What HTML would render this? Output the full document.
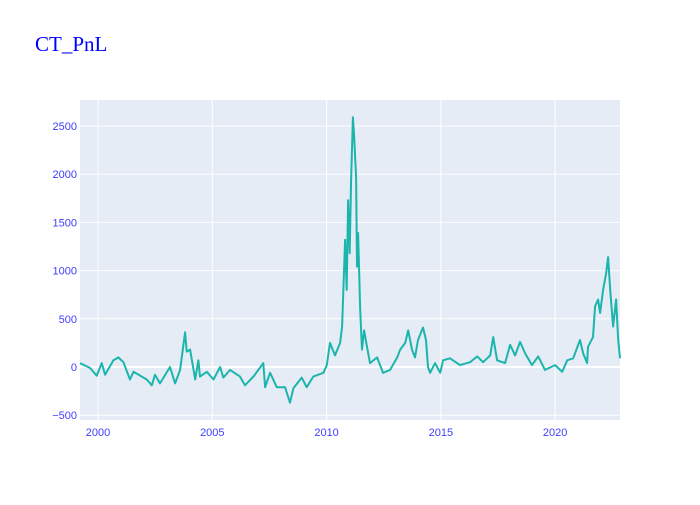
<!DOCTYPE html>
<html><head><meta charset="utf-8"><style>
body{margin:0;background:#fff}
svg text{font-family:"Liberation Sans",sans-serif}
</style></head><body>
<svg width="700" height="500" xmlns="http://www.w3.org/2000/svg">
<text x="35" y="51" font-size="21" fill="#0000ff" style="font-family:'Liberation Serif',serif">CT_PnL</text>
<rect x="80" y="100" width="540" height="320" fill="#e5ecf6"/>
<g id="grid"></g><g id="ticks"></g><g id="series"></g>
</svg>
<script>
const years=[1999.21,1999.65,1999.94,2000.16,2000.31,2000.67,2000.89,2001.11,2001.40,2001.55,2002.13,2002.35,2002.49,2002.71,2003.15,2003.37,2003.59,2003.81,2003.88,2004.03,2004.25,2004.39,2004.46,2004.76,2005.05,2005.34,2005.48,2005.78,2006.21,2006.43,2006.80,2007.23,2007.31,2007.53,2007.82,2008.18,2008.40,2008.55,2008.91,2009.13,2009.42,2009.86,2010.01,2010.15,2010.37,2010.59,2010.68,2010.81,2010.88,2010.94,2011.01,2011.07,2011.15,2011.20,2011.29,2011.33,2011.38,2011.47,2011.55,2011.64,2011.77,2011.90,2012.21,2012.47,2012.78,2013.09,2013.22,2013.44,2013.57,2013.74,2013.87,2014.00,2014.22,2014.35,2014.44,2014.53,2014.75,2014.97,2015.10,2015.40,2015.84,2016.28,2016.59,2016.85,2017.16,2017.29,2017.46,2017.81,2018.03,2018.25,2018.47,2018.69,2018.99,2019.26,2019.56,2020.00,2020.31,2020.53,2020.79,2021.09,2021.23,2021.40,2021.44,2021.66,2021.75,2021.88,2021.97,2022.10,2022.23,2022.32,2022.41,2022.54,2022.67,2022.76,2022.84];
const pnl=[40,-10,-90,40,-80,70,100,50,-130,-50,-130,-190,-80,-170,0,-170,-30,360,160,180,-130,70,-100,-50,-130,0,-110,-30,-100,-190,-100,40,-210,-60,-210,-210,-370,-220,-110,-210,-100,-60,20,250,120,250,420,1320,800,1730,1180,1900,2590,2420,1970,1040,1390,590,180,380,210,40,100,-60,-30,100,180,250,380,180,100,280,410,280,0,-60,40,-60,70,90,20,50,110,50,120,310,70,40,230,120,260,140,20,110,-30,20,-50,70,90,280,140,40,210,310,630,700,560,800,970,1140,800,420,700,280,90];
const xTicks=[2000,2005,2010,2015,2020];
const yTicks=[-500,0,500,1000,1500,2000,2500];
const X0=1999.21,X1=2022.84,L=80,R=620,T=100,B=420;
const xs=v=>L+(v-X0)/(X1-X0)*(R-L);
const ys=v=>367-v*0.0964;
const NS="http://www.w3.org/2000/svg";
const g=document.getElementById('grid'),t=document.getElementById('ticks'),s=document.getElementById('series');
function mk(tag,a,p){const e=document.createElementNS(NS,tag);for(const k in a)e.setAttribute(k,a[k]);p.appendChild(e);return e;}
xTicks.forEach(v=>{
 const l=mk('line',{x1:xs(v),x2:xs(v),y1:T,y2:B,stroke:'#fff','stroke-width':1},g);
 
 
 const tx=mk('text',{x:xs(v),y:436,'text-anchor':'middle','font-size':11,fill:'#4040ff'},t);
 tx.textContent=v;
 
 
});
yTicks.forEach(v=>{
 const l=mk('line',{x1:L,x2:R,y1:ys(v),y2:ys(v),stroke:'#fff','stroke-width':v===0?2:1},g);
 
 
 const tx=mk('text',{x:77,y:ys(v)+4,'text-anchor':'end','font-size':11,fill:'#4040ff'},t);
 tx.textContent=v<0?'\u2212'+Math.abs(v):v;
 
 
});
const pts=years.map((y,i)=>xs(y).toFixed(1)+','+ys(pnl[i]).toFixed(1)).join(' ');
const pl=mk('polyline',{points:pts,fill:'none',stroke:'#1cb5ac','stroke-width':2,'stroke-linejoin':'round'},s);


</script>
</body></html>
